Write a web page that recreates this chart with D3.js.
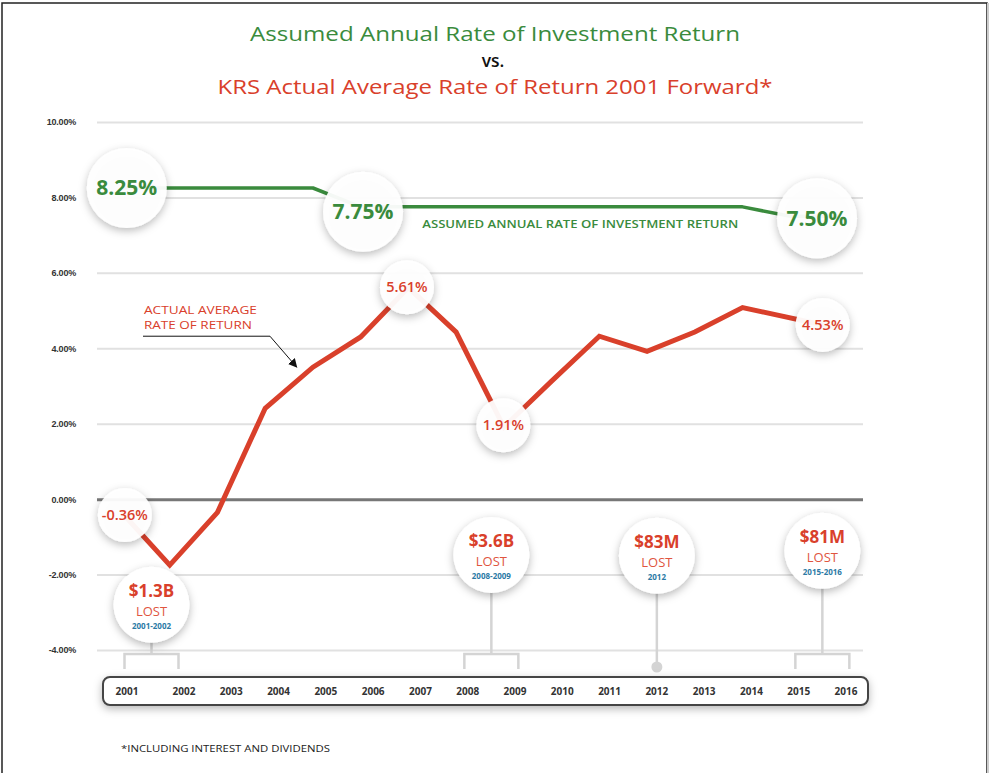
<!DOCTYPE html>
<html lang="en">
  <head>
    <meta charset="utf-8" />
    <title>Assumed vs Actual Rate of Return</title>
    <script src="https://d3js.org/d3.v7.min.js"></script>
    <style>
      html, body { margin: 0; padding: 0; background: #fff; }
      svg { display: block; font-family: "Open Sans", sans-serif; }
    </style>
  </head>
  <body>
    <div id="chart"></div>
    <script>
      // Data
      const tickYears = [2001, 2002, 2003, 2004, 2005, 2006, 2007, 2008,
        2009, 2010, 2011, 2012, 2013, 2014, 2015, 2016];
      const yTicks = [10, 8, 6, 4, 2, 0, -2, -4];

      const assumedYears = [2001, 2002, 2003, 2004, 2005, 2006, 2007, 2008,
        2009, 2010, 2011, 2012, 2013, 2014, 2015, 2016];
      const assumedRates = [8.25, 8.25, 8.25, 8.25, 8.25, 7.75, 7.75, 7.75,
        7.75, 7.75, 7.75, 7.75, 7.75, 7.75, 7.5, 7.5];

      const actualYears = [2001, 2002, 2003, 2004, 2005, 2006, 2007, 2008,
        2009, 2010, 2011, 2012, 2013, 2014, 2016];
      const actualRates = [-0.36, -1.75, -0.35, 2.41, 3.5, 4.3, 5.61, 4.43,
        1.91, 3.13, 4.32, 3.92, 4.43, 5.08, 4.53];

      // bubbles holding the rate labels (placed in data units)
      const rateCallouts = [
        { text: "8.25%", series: "assumed", year: 2001.1, value: 8.25 },
        { text: "7.75%", series: "assumed", year: 2006.05, value: 7.62 },
        { text: "7.50%", series: "assumed", year: 2015.56, value: 7.45 },
        { text: "5.61%", series: "actual", year: 2006.97, value: 5.62 },
        { text: "1.91%", series: "actual", year: 2008.99, value: 1.96 },
        { text: "4.53%", series: "actual", year: 2015.68, value: 4.62 },
        { text: "-0.36%", series: "actual", year: 2001.06, value: -0.42 },
      ];

      // money lost bubbles
      const lossCallouts = [
        { amount: "$1.3B", period: "2001-2002", from: 2001, to: 2002, value: -2.8 },
        { amount: "$3.6B", period: "2008-2009", from: 2008, to: 2009, value: -1.48 },
        { amount: "$83M", period: "2012", from: 2012, to: 2012, value: -1.5 },
        { amount: "$81M", period: "2015-2016", from: 2015, to: 2016, value: -1.37 },
      ];

      const green = "#3a8b3d";
      const red = "#d9402b";
      const blue = "#2b7aa5";

      const W = 990, H = 773;
      const svg = d3.select("#chart").append("svg")
        .attr("width", W).attr("height", H);

      const defs = svg.append("defs");
      defs.append("filter").attr("id", "shadow")
        .attr("x", "-50%").attr("y", "-50%").attr("width", "200%").attr("height", "200%")
        .append("feDropShadow")
        .attr("dx", 0).attr("dy", 3).attr("stdDeviation", 4.5)
        .attr("flood-color", "#000").attr("flood-opacity", 0.28);
      defs.append("marker").attr("id", "arrow")
        .attr("viewBox", "0 0 10 10").attr("refX", 9).attr("refY", 5)
        .attr("markerWidth", 9).attr("markerHeight", 9)
        .attr("orient", "auto-start-reverse")
        .append("path").attr("d", "M0,0 L10,5 L0,10 z").attr("fill", "#111");

      // frame
      svg.append("rect").attr("x", 2).attr("y", 3).attr("width", 985).attr("height", 780)
        .attr("fill", "none").attr("stroke", "#222").attr("stroke-width", 1.5);
      svg.append("line").attr("x1", 988).attr("x2", 988).attr("y1", 3).attr("y2", H)
        .attr("stroke", "#ccc").attr("stroke-width", 2);

      // scales
      const x = d3.scaleLinear().domain([2001, 2016]).range([122, 838]);
      const y = d3.scaleLinear().domain([-4, 10]).range([650, 122]);
      const gridX = [97, 863];
      // year labels in the bottom box
      const labelX = d3.scaleLinear().domain([2002, 2016]).range([184, 846]);
      const box = { x0: 103, x1: 868, y0: 677, y1: 705 };
      const labelPos = (yr) => (yr === 2001 ? box.x0 + 24 : labelX(yr));

      // titles
      const titles = svg.append("g").attr("text-anchor", "middle");
      titles.append("text").attr("x", 495).attr("y", 41)
        .attr("font-size", 20).attr("fill", green)
        .attr("textLength", 490).attr("lengthAdjust", "spacingAndGlyphs")
        .text("Assumed Annual Rate of Investment Return");
      titles.append("text").attr("x", 493).attr("y", 67)
        .attr("font-size", 17.5).attr("font-weight", 600).attr("fill", "#111")
        .text("vs.");
      titles.append("text").attr("x", 495).attr("y", 94)
        .attr("font-size", 20).attr("fill", red)
        .attr("textLength", 555).attr("lengthAdjust", "spacingAndGlyphs")
        .text("KRS Actual Average Rate of Return 2001 Forward*");

      // y axis: gridlines + labels
      const yAxis = d3.axisLeft(y)
        .tickValues(yTicks)
        .tickSize(-(gridX[1] - gridX[0]))
        .tickPadding(21)
        .tickFormat((d) => d.toFixed(2) + "%");
      const yG = svg.append("g")
        .attr("transform", `translate(${gridX[0]},0)`)
        .call(yAxis);
      yG.select(".domain").remove();
      yG.selectAll(".tick line")
        .attr("stroke", (d) => (d === 0 ? "#777" : "#e1e1e1"))
        .attr("stroke-width", (d) => (d === 0 ? 3 : 2));
      yG.selectAll(".tick text")
        .attr("fill", "#333").attr("font-size", 9).attr("font-weight", 700)
        .attr("letter-spacing", -0.2);

      // lines
      const lineGen = d3.line().x((d) => x(d[0])).y((d) => y(d[1]));
      svg.append("path")
        .datum(d3.zip(assumedYears, assumedRates))
        .attr("d", lineGen)
        .attr("fill", "none").attr("stroke", green).attr("stroke-width", 3.5)
        .attr("stroke-linejoin", "round");
      svg.append("path")
        .datum(d3.zip(actualYears, actualRates))
        .attr("d", lineGen)
        .attr("fill", "none").attr("stroke", red).attr("stroke-width", 5)
        .attr("stroke-linejoin", "miter");

      // line annotations
      svg.append("text")
        .attr("x", x(2007.29)).attr("y", y(7.2))
        .attr("font-size", 11).attr("font-weight", 600).attr("fill", green)
        .attr("textLength", 316).attr("lengthAdjust", "spacingAndGlyphs")
        .text("ASSUMED ANNUAL RATE OF INVESTMENT RETURN");
      const ann = svg.append("g").attr("fill", red)
        .attr("font-size", 11.5).attr("font-weight", 500);
      ann.append("text").attr("x", x(2001.46)).attr("y", y(4.9))
        .attr("textLength", 113).attr("lengthAdjust", "spacingAndGlyphs")
        .text("ACTUAL AVERAGE");
      ann.append("text").attr("x", x(2001.46)).attr("y", y(4.5))
        .attr("textLength", 108).attr("lengthAdjust", "spacingAndGlyphs")
        .text("RATE OF RETURN");
      svg.append("path")
        .attr("d", d3.line()([
          [x(2001.44), y(4.32)], [x(2004.1), y(4.32)], [x(2004.66), y(3.5)],
        ]))
        .attr("fill", "none").attr("stroke", "#111").attr("stroke-width", 1)
        .attr("marker-end", "url(#arrow)");

      // rate bubbles
      const rateG = svg.selectAll(".rate").data(rateCallouts).enter()
        .append("g").attr("class", "rate")
        .attr("transform", (d) => `translate(${x(d.year)},${y(d.value)})`);
      rateG.append("circle")
        .attr("r", (d) => (d.series === "assumed" ? 40 : 27))
        .attr("fill", "#fff").attr("fill-opacity", 0.94)
        .attr("filter", "url(#shadow)");
      rateG.append("text")
        .attr("text-anchor", "middle").attr("dy", "0.35em")
        .attr("fill", (d) => (d.series === "assumed" ? green : red))
        .attr("font-size", (d) => (d.series === "assumed" ? 21 : 14.5))
        .attr("font-weight", (d) => (d.series === "assumed" ? 700 : 600))
        .text((d) => d.text);

      // loss bubbles with brackets to the year labels
      const lossG = svg.selectAll(".loss").data(lossCallouts).enter()
        .append("g").attr("class", "loss");
      const cxOf = (d) => (labelPos(d.from) + labelPos(d.to)) / 2 - (d.from === 2001 ? 4 : 0);
      lossG.each(function (d) {
        const g = d3.select(this);
        const cx = cxOf(d), cy = y(d.value);
        const baseY = 654, legY = 669;
        if (d.from === d.to) {
          g.append("line").attr("x1", cx).attr("x2", cx)
            .attr("y1", cy).attr("y2", legY - 2)
            .attr("stroke", "#d4d4d4").attr("stroke-width", 2.5);
          g.append("circle").attr("cx", cx).attr("cy", legY - 2).attr("r", 5.5)
            .attr("fill", "#d4d4d4");
        } else {
          g.append("path")
            .attr("d", `M${cx},${cy} V${baseY} M${cx - 27},${legY} V${baseY} H${cx + 27} V${legY}`)
            .attr("fill", "none").attr("stroke", "#d4d4d4").attr("stroke-width", 2.5);
        }
        g.append("circle").attr("cx", cx).attr("cy", cy).attr("r", 38)
          .attr("fill", "#fff").attr("filter", "url(#shadow)");
        g.append("text").attr("x", cx).attr("y", cy - 8)
          .attr("text-anchor", "middle").attr("fill", red)
          .attr("font-size", 17).attr("font-weight", 700)
          .text(d.amount);
        g.append("text").attr("x", cx).attr("y", cy + 11)
          .attr("text-anchor", "middle").attr("fill", "#e0553f")
          .attr("font-size", 13).attr("font-weight", 400)
          .text("LOST");
        g.append("text").attr("x", cx).attr("y", cy + 24.5)
          .attr("text-anchor", "middle").attr("fill", blue)
          .attr("font-size", 8).attr("font-weight", 700)
          .text(d.period);
      });

      // year box
      svg.append("rect")
        .attr("x", box.x0).attr("y", box.y0)
        .attr("width", box.x1 - box.x0).attr("height", box.y1 - box.y0)
        .attr("rx", 7).attr("fill", "#fff")
        .attr("stroke", "#444").attr("stroke-width", 2)
        .attr("filter", "url(#shadow)");
      svg.append("g").selectAll("text").data(tickYears).enter()
        .append("text")
        .attr("x", (d) => labelPos(d)).attr("y", (box.y0 + box.y1) / 2)
        .attr("dy", "0.35em").attr("text-anchor", "middle")
        .attr("fill", "#333").attr("font-size", 10).attr("font-weight", 700)
        .text((d) => d);

      // footnote
      svg.append("text").attr("x", 121).attr("y", 752)
        .attr("font-size", 9.5).attr("font-weight", 500).attr("fill", "#222")
        .attr("textLength", 209).attr("lengthAdjust", "spacingAndGlyphs")
        .text("*INCLUDING INTEREST AND DIVIDENDS");
    </script>
  </body>
</html>
